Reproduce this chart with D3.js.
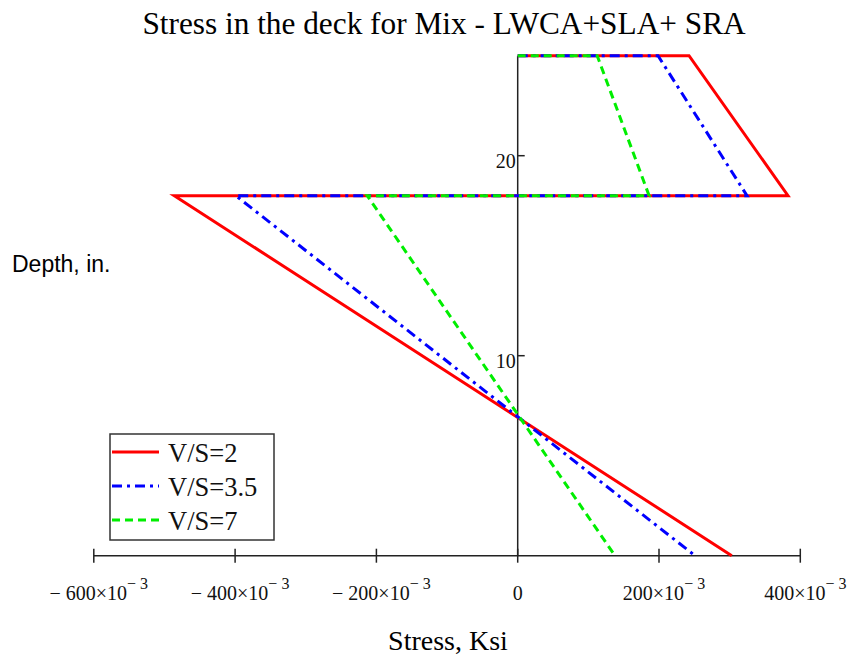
<!DOCTYPE html>
<html><head><meta charset="utf-8">
<script src="https://cdn.jsdelivr.net/npm/d3@7"></script>
<style>body{margin:0;background:#fff}svg{display:block}</style>
</head><body>
<svg id="c" width="849" height="657"></svg>
<script>
// Data
const seriesNames = ["V/S=2", "V/S=3.5", "V/S=7"];
const depthPts = [25, 25, 18, 18, 0];
const stressVS2 = [0, 0.2425, 0.3826, -0.486, 0.303];
const stressVS35 = [0, 0.1986, 0.3246, -0.399, 0.251];
const stressVS7 = [0, 0.1125, 0.186, -0.213, 0.1377];
const xTicks = [-0.6, -0.4, -0.2, 0, 0.2, 0.4];
const xTickMain = ["\u2212 600\u00d710", "\u2212 400\u00d710", "\u2212 200\u00d710", "0", "200\u00d710", "400\u00d710"];
const yTicks = [10, 20];

const svg = d3.select("#c");
const x = d3.scaleLinear().domain([-0.6, 0.4]).range([93.8, 800.3]);
const y = d3.scaleLinear().domain([0, 25]).range([555.7, 55.7]);
const serif = "'Liberation Serif','Times New Roman',serif";

// axes
const xAxis = svg.append("g").attr("transform", `translate(0,${y(0)})`);
xAxis.append("line").attr("x1", x(-0.6)).attr("x2", x(0.4)).attr("stroke", "#222").attr("stroke-width", 1.5);
xAxis.selectAll("line.t").data(xTicks).enter().append("line").attr("class","t")
  .attr("x1", d => x(d)).attr("x2", d => x(d)).attr("y1", -7).attr("y2", 7)
  .attr("stroke", "#222").attr("stroke-width", 1.5);
const xl = xAxis.selectAll("text").data(xTicks).enter().append("text")
  .attr("x", d => x(d) + (d === 0 ? 0 : 5)).attr("y", 44).attr("text-anchor", "middle")
  .attr("font-family", serif).attr("font-size", 20).attr("fill", "#111");
xl.each(function(d, i) {
  const t = d3.select(this);
  t.append("tspan").text(xTickMain[i]);
  if (d !== 0) t.append("tspan").attr("dy", -11).attr("font-size", 16).text("\u2212 3");
});

const yAxis = svg.append("g").attr("transform", `translate(${x(0)},0)`);
yAxis.append("line").attr("y1", y(0)).attr("y2", y(25)).attr("stroke", "#222").attr("stroke-width", 1.5);
yAxis.selectAll("line.t").data(yTicks).enter().append("line").attr("class","t")
  .attr("x1", 0).attr("x2", 7).attr("y1", d => y(d)).attr("y2", d => y(d))
  .attr("stroke", "#222").attr("stroke-width", 1.5);
yAxis.selectAll("text").data(yTicks).enter().append("text")
  .attr("x", -2).attr("y", d => y(d) + 12).attr("text-anchor", "end")
  .attr("font-family", serif).attr("font-size", 20).attr("fill", "#111").text(d => d);

// series
const styles = [
  {color: "#ff0000", dash: null},
  {color: "#0000ff", dash: "10,5,3,5"},
  {color: "#00ee00", dash: "8,5"}
];
const data = [stressVS2, stressVS35, stressVS7].map(s => s.map((v, i) => [v, depthPts[i]]));
const line = d3.line().x(d => x(d[0])).y(d => y(d[1]));
svg.selectAll("path.s").data(data).enter().append("path").attr("class", "s")
  .attr("d", line).attr("fill", "none")
  .attr("stroke", (d, i) => styles[i].color).attr("stroke-width", 3)
  .attr("stroke-dasharray", (d, i) => styles[i].dash)
  .attr("stroke-linejoin", "miter");

// legend
const lg = svg.append("g");
lg.append("rect").attr("x", 110).attr("y", 434).attr("width", 164).attr("height", 106)
  .attr("fill", "#fff").attr("stroke", "#333").attr("stroke-width", 1.5);
seriesNames.forEach((n, i) => {
  const cy = 452 + i * 34;
  lg.append("line").attr("x1", 112).attr("x2", 159).attr("y1", cy).attr("y2", cy)
    .attr("stroke", styles[i].color).attr("stroke-width", 3).attr("stroke-dasharray", styles[i].dash);
  lg.append("text").attr("x", 168).attr("y", cy + 10).attr("font-family", serif)
    .attr("font-size", 26.5).attr("fill", "#111").text(n);
});

// titles
svg.append("text").attr("x", 444).attr("y", 34).attr("text-anchor", "middle")
  .attr("font-family", serif).attr("font-size", 31.3).attr("fill", "#000")
  .text("Stress in the deck for Mix - LWCA+SLA+ SRA");
svg.append("text").attr("x", 448).attr("y", 650).attr("text-anchor", "middle")
  .attr("font-family", serif).attr("font-size", 28).attr("fill", "#000")
  .text("Stress, Ksi");
svg.append("text").attr("x", 12).attr("y", 272)
  .attr("font-family", "'Liberation Sans',Arial,sans-serif").attr("font-size", 23).attr("fill", "#000")
  .text("Depth, in.");
</script>
</body></html>
